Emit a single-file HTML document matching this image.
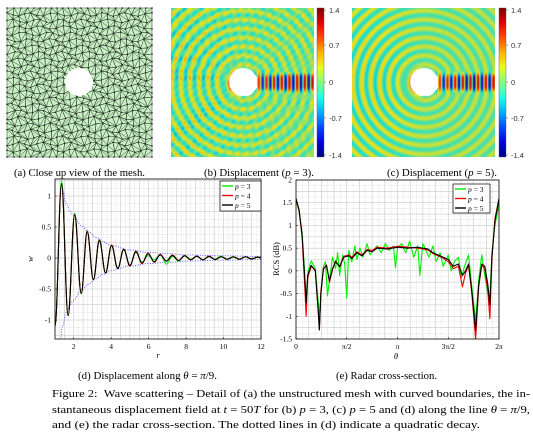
<!DOCTYPE html>
<html><head><meta charset="utf-8">
<style>
html,body{margin:0;padding:0;background:#fff;}
#root{position:relative;width:533px;height:445px;overflow:hidden;font-family:"Liberation Serif",serif;}
canvas{position:absolute;}
svg{position:absolute;left:0;top:0;}
</style></head><body>
<div id="root">
<canvas id="fieldB" width="143" height="149" style="left:171px;top:8px"></canvas>
<canvas id="fieldC" width="143" height="149" style="left:352px;top:8px"></canvas>
<svg id="svg" width="533" height="445" xmlns="http://www.w3.org/2000/svg"></svg>
</div>
<script>
// ---------- Chart (d) data ----------
const dispR = [1.0,1.35,1.7,2.05,2.4,2.72,3.05,3.37,3.7,4.02,4.35,4.67,5.0,5.32,5.65,5.97,6.3,6.62,6.95,7.27,7.6,7.92,8.25,8.57,8.9,9.22,9.55,9.87,10.2,10.52,10.85,11.17,11.5,11.82,12.0];
const dispP5 = [-1.1,1.2,-0.93,0.7,-0.57,0.42,-0.35,0.28,-0.24,0.2,-0.17,0.14,-0.12,0.1,-0.08,0.07,-0.06,0.05,-0.05,0.04,-0.04,0.035,-0.03,0.03,-0.03,0.025,-0.025,0.02,-0.02,0.02,-0.02,0.02,-0.015,0.015,0.0];
const dispP4 = [-1.1,1.2,-0.93,0.7,-0.57,0.43,-0.35,0.29,-0.24,0.21,-0.17,0.14,-0.13,0.11,-0.09,0.08,-0.07,0.06,-0.05,0.05,-0.04,0.04,-0.03,0.03,-0.03,0.03,-0.025,0.02,-0.02,0.02,-0.02,0.02,-0.015,0.015,0.0];
const dispP3 = [-1.1,1.25,-0.93,0.72,-0.58,0.44,-0.35,0.3,-0.24,0.2,-0.16,0.13,-0.12,0.09,-0.07,0.04,-0.03,0.06,-0.1,0.03,-0.05,0.04,-0.02,0.03,-0.03,0.02,-0.02,0.03,-0.02,0.01,-0.02,0.02,-0.02,0.01,0.0];
const envR = [1.25,1.4,1.6,1.8,2.0,2.4,2.8,3.2,3.6,4.0,5.0,6.0,7.0,8.0,10.0,12.0];
const envV = [1.4,1.1,0.88,0.75,0.68,0.52,0.42,0.33,0.26,0.2,0.13,0.09,0.07,0.05,0.035,0.025];
const dXTicks = [2,4,6,8,10,12];
const dYTicks = [1,0.5,0,-0.5,-1];
const dYLabels = ["1","0.5","0","-0.5","-1"];

// ---------- Chart (e) data (theta in units of pi) ----------
const rcsTheta = [0,0.03,0.06,0.09,0.1,0.115,0.15,0.19,0.22,0.23,0.245,0.27,0.3,0.33,0.36,0.39,0.43,0.47,0.52,0.55,0.6,0.65,0.7,0.75,0.8,0.9,1.0,1.1,1.2,1.3,1.35,1.4,1.45,1.5,1.55,1.6,1.64,1.67,1.7,1.73,1.77,1.8,1.83,1.86,1.89,1.91,1.93,1.96,2.0];
const rcsP5 = [1.58,1.35,0.8,-0.3,-0.7,-0.1,0.12,0.0,-0.9,-1.3,-0.5,0.05,0.12,-0.22,0.05,0.2,0.1,0.3,0.33,0.27,0.4,0.33,0.45,0.42,0.5,0.48,0.52,0.5,0.52,0.48,0.4,0.35,0.3,0.25,0.1,0.15,-0.1,0.0,0.15,-0.4,-1.3,-0.3,0.15,0.1,-0.3,-0.75,0.3,1.1,1.58];
const rcsP4 = [1.6,1.33,0.75,-0.5,-1.0,-0.15,0.1,0.02,-0.95,-1.3,-0.45,0.03,0.13,-0.25,0.03,0.22,0.08,0.32,0.35,0.3,0.42,0.35,0.47,0.45,0.52,0.5,0.54,0.52,0.5,0.46,0.38,0.33,0.28,0.2,0.05,0.1,-0.35,-0.05,0.12,-0.45,-1.5,-0.35,0.12,0.05,-0.45,-1.05,0.25,1.15,1.6];
const rcsTheta3 = [0,0.03,0.06,0.09,0.1,0.12,0.15,0.19,0.22,0.23,0.25,0.27,0.29,0.31,0.33,0.36,0.39,0.41,0.43,0.46,0.48,0.5,0.52,0.55,0.58,0.6,0.63,0.66,0.7,0.73,0.76,0.8,0.84,0.88,0.92,0.96,0.98,1.0,1.04,1.08,1.12,1.16,1.2,1.22,1.25,1.28,1.31,1.35,1.38,1.42,1.45,1.5,1.53,1.56,1.6,1.63,1.66,1.7,1.73,1.77,1.8,1.83,1.86,1.89,1.91,1.93,1.96,2.0];
const rcsP3 = [1.55,1.3,0.85,-0.2,-0.6,0.0,0.22,0.05,-0.7,-1.1,-0.4,0.1,0.2,-0.55,-0.2,0.3,0.05,0.4,-0.1,0.35,0.15,-0.6,0.45,0.2,0.55,0.25,0.5,0.3,0.6,0.35,0.45,0.55,0.4,0.6,0.45,0.55,0.07,0.5,0.6,0.4,0.65,0.3,0.55,-0.1,0.6,0.45,0.3,0.55,0.2,0.4,0.1,0.35,0.0,0.2,0.3,-0.15,0.1,0.35,-0.3,-1.1,-0.2,0.35,-0.1,-0.5,-0.6,0.4,1.0,1.45];
const eYTicks = [2,1.5,1,0.5,0,-0.5,-1,-1.5];
const eYLabels = ["2","1.5","1","0.5","0","-0.5","-1","-1.5"];
const eXTicks = [0,0.5,1,1.5,2];
const eXLabels = ["0","\u03c0/2","\u03c0","3\u03c0/2","2\u03c0"];

const NS="http://www.w3.org/2000/svg";
const svg=document.getElementById('svg');
function mk(tag,attrs,parent){const e=document.createElementNS(NS,tag);for(const k in attrs)e.setAttribute(k,attrs[k]);(parent||svg).appendChild(e);return e;}
function txt(s,x,y,size,anchor,parent,extra){const t=mk('text',Object.assign({x:x,y:y,'font-size':size,'text-anchor':anchor||'middle','font-family':'"Liberation Serif",serif',fill:'#000'},extra||{}),parent);t.textContent=s;return t;}

// ---------- Panel (a) mesh ----------
(function(){
  const g=mk('g',{});
  
  
  mk('rect',{x:7,y:8,width:145,height:149,fill:'#c9f0c4'},g);
  const nx=23, ny=23, pts=[];
  for(let i=0;i<=nx;i++){pts[i]=[];for(let j=0;j<=ny;j++){
    let jx=(i>0&&i<nx)?1.9*Math.sin(i*12.99+j*78.23):0, jy=(j>0&&j<ny)?1.9*Math.sin(i*39.35+j*11.13):0;
    pts[i][j]=[7+i*145/nx+jx,8+j*149/ny+jy];}}
  let d='';
  for(let i=0;i<nx;i++)for(let j=0;j<ny;j++){
    const a=pts[i][j],b=pts[i+1][j],c=pts[i+1][j+1],e=pts[i][j+1];
    d+=`M${a[0]},${a[1]}L${b[0]},${b[1]}L${c[0]},${c[1]}L${e[0]},${e[1]}Z`;
    if((i+j)%2)d+=`M${a[0]},${a[1]}L${c[0]},${c[1]}`;else d+=`M${b[0]},${b[1]}L${e[0]},${e[1]}`;
  }
  mk('path',{d:d,fill:'none',stroke:'#2a3a2a','stroke-width':0.5},g);
  for(let i=0;i<=nx;i++)for(let j=0;j<=ny;j++)mk('circle',{cx:pts[i][j][0],cy:pts[i][j][1],r:0.8,fill:'#222'},g);
  mk('circle',{cx:79,cy:82,r:14,fill:'#fff'},g);
})();

// ---------- Panels (b),(c) fields ----------
function jet(t){t=Math.max(0,Math.min(1,t));const c=v=>Math.max(0,Math.min(1,v));
  return [c(1.5-Math.abs(4*t-3))*255,c(1.5-Math.abs(4*t-2))*255,c(1.5-Math.abs(4*t-1))*255];}
function drawField(id,noisy){
  const cv=document.getElementById(id),ctx=cv.getContext('2d'),W=cv.width,H=cv.height;
  const im=ctx.createImageData(W,H),cx=72,cy=74,R=14;
  for(let y=0;y<H;y++)for(let x=0;x<W;x++){
    const dx=x-cx,dy=y-cy,r=Math.hypot(dx,dy),th=Math.atan2(dy,dx);
    let v=0,idx=(y*W+x)*4;
    if(r<R){im.data[idx]=255;im.data[idx+1]=255;im.data[idx+2]=255;im.data[idx+3]=255;continue;}
    const back=Math.max(0,-Math.cos(th));
    v=0.38*Math.cos(0.7*r)*(0.6+0.5*back);
    v+=1.3*Math.exp(-(r-R)/5)*back*Math.cos(0.7*r+2.6);
    if(noisy)v+=0.18*Math.cos(0.72*x+0.3*y)*Math.cos(0.5*y);
    if(dx>0){const sh=Math.exp(-Math.pow(dy/9,4));v=v*(1-sh)+sh*1.3*Math.cos(0.82*dx)*(0.7+0.3*Math.min(1,dx/40));}
    const c=jet((v+1.4)/2.8);
    im.data[idx]=c[0]*0.85+25;im.data[idx+1]=c[1]*0.8+20;im.data[idx+2]=c[2]*0.75+20;im.data[idx+3]=255;
  }
  ctx.putImageData(im,0,0);
  ctx.fillStyle='#fff';ctx.beginPath();ctx.arc(cx,cy,R,0,7);ctx.fill();
}
drawField('fieldB',true);drawField('fieldC',false);

// colorbars
(function(){
  const defs=mk('defs',{});
  const lg=mk('linearGradient',{id:'jetg',x1:0,y1:1,x2:0,y2:0},defs);
  for(let i=0;i<=10;i++){const c=jet(i/10);mk('stop',{offset:i/10,'stop-color':`rgb(${c[0]|0},${c[1]|0},${c[2]|0})`},lg);}
  [[317,'colorbar-p3'],[499,'colorbar-p5']].forEach(([x,name])=>{
    const g=mk('g',{});
    
    
    mk('rect',{x:x,y:8,width:7,height:149,fill:'url(#jetg)',stroke:'#555','stroke-width':0.4},g);
    const labs=['1.4','0.7','0','-0.7','-1.4'],ys=[10,45,82,118,155];
    labs.forEach((l,i)=>{mk('line',{x1:x+7,x2:x+9,y1:ys[i],y2:ys[i],stroke:'#555','stroke-width':0.5},g);
      txt(l,x+12,ys[i]+3,7.5,'start',g,{'font-family':'"Liberation Sans",sans-serif',fill:'#333'});});
  });
})();
// top captions
[['(a) Close up view of the mesh.',14,131,'caption-a'],['(b) Displacement (<tspan font-style="italic">p</tspan> = 3).',204,110,'caption-b'],['(c) Displacement (<tspan font-style="italic">p</tspan> = 5).',387,110,'caption-c']].forEach(([s,x,w,n])=>{
  const t=mk('text',{x:x,y:176,'font-size':10.5,'font-family':'"Liberation Serif",serif',textLength:w,lengthAdjust:'spacingAndGlyphs'});
  t.innerHTML=s;
  
  
});

// ---------- smoothing helpers ----------
function extremaPath(xs,ys,X,Y){
  let d=`M${X(xs[0])},${Y(ys[0])}`;
  for(let i=1;i<xs.length;i++){const x0=X(xs[i-1]),x1=X(xs[i]),y0=Y(ys[i-1]),y1=Y(ys[i]),h=(x1-x0)/2.6;
    d+=`C${x0+h},${y0} ${x1-h},${y1} ${x1},${y1}`;}
  return d;
}
function linePath(xs,ys,X,Y){return xs.map((x,i)=>(i?'L':'M')+X(x).toFixed(2)+','+Y(ys[i]).toFixed(2)).join('');}

function drawGrid(g,L,R,T,B,vx,vy,minorX,minorY){
  vx.forEach(x=>mk('line',{x1:x,x2:x,y1:T,y2:B,stroke:'#c8c8c8','stroke-width':0.6},g));
  vy.forEach(y=>mk('line',{x1:L,x2:R,y1:y,y2:y,stroke:'#c8c8c8','stroke-width':0.6},g));
  minorX.forEach(x=>mk('line',{x1:x,x2:x,y1:T,y2:B,stroke:'#cfcfcf','stroke-width':0.5,'stroke-dasharray':'1,1'},g));
  minorY.forEach(y=>mk('line',{x1:L,x2:R,y1:y,y2:y,stroke:'#cfcfcf','stroke-width':0.5,'stroke-dasharray':'1,1'},g));
}
function legend(g,x,y,w,h,names){
  const lg=mk('g',{},g);
  
  
  mk('rect',{x:x,y:y,width:w,height:h,fill:'#fff',stroke:'#000','stroke-width':0.7},lg);
  const cols=['#00ee00','#ee0000','#000'];
  names.forEach((n,i)=>{const yy=y+5+i*9.5;
    const e=mk('g',{},lg);
    
    
    mk('line',{x1:x+2,x2:x+13,y1:yy,y2:yy,stroke:cols[i],'stroke-width':1.4},e);
    const t=txt('',x+15,yy+3,7.5,'start',e);
    t.innerHTML='<tspan font-style="italic">p</tspan> = '+n;});
}

// ---------- Chart (d) ----------
(function(){
  const L=55,R=261,T=179,B=339;
  const X=v=>L+(v-1)/11*(R-L), Y=v=>258-62*v;
  const g=mk('g',{});
  
  
  const cp=mk('clipPath',{id:'clipd'},g);mk('rect',{x:L,y:T,width:R-L,height:B-T},cp);
  const vx=[],vy=[],mx=[],my=[];
  for(let v=1.5;v<12;v+=0.5)vx.push(X(v));
  for(let v=1.25;v<12;v+=0.5)mx.push(X(v));
  for(let v=-1.25;v<=1.25;v+=0.25)vy.push(Y(v));
  for(let v=-1.25;v<=1.25;v+=0.125)my.push(Y(v));
  drawGrid(g,L,R,T,B,vx,vy,mx,my);
  const pg=mk('g',{'clip-path':'url(#clipd)'},g);
  const e1=mk('path',{d:extremaPath(envR,envV,X,Y),fill:'none',stroke:'#4848ff','stroke-width':0.9,'stroke-dasharray':'1,1.5'},pg);
  
  const e2=mk('path',{d:extremaPath(envR,envV.map(v=>-v),X,Y),fill:'none',stroke:'#4848ff','stroke-width':0.9,'stroke-dasharray':'1,1.5'},pg);
  
  [[dispP3,'#00ee00','series-p3'],[dispP4,'#ee0000','series-p4'],[dispP5,'#000','series-p5']].forEach(([ys,c,n])=>{
    const p=mk('path',{d:extremaPath(dispR,ys,X,Y),fill:'none',stroke:c,'stroke-width':1.1},pg);
    
    
  });
  mk('rect',{x:L,y:T,width:R-L,height:B-T,fill:'none',stroke:'#000','stroke-width':0.8},g);
  dXTicks.forEach(v=>{mk('line',{x1:X(v),x2:X(v),y1:B,y2:B-2,stroke:'#000','stroke-width':0.5},g);txt(String(v),X(v),349,7.5,'middle',g);});
  dYTicks.forEach((v,i)=>{mk('line',{x1:L,x2:L+2,y1:Y(v),y2:Y(v),stroke:'#000','stroke-width':0.5},g);txt(dYLabels[i],L-4,Y(v)+2.5,7.5,'end',g);});
  const xl=txt('r',158,358,8.5,'middle',g,{'font-style':'italic'});
  const yl=txt('w',33,259,8.5,'middle',g,{'font-style':'italic',transform:'rotate(-90 33 259)'});
  legend(g,220,181,41,30,['3','4','5']);
  const c=mk('text',{x:78,y:379,'font-size':10.5,'font-family':'"Liberation Serif",serif',textLength:139,lengthAdjust:'spacingAndGlyphs'},g);
  c.innerHTML='(d) Displacement along <tspan font-style="italic">\u03b8</tspan> = <tspan font-style="italic">\u03c0</tspan>/9.';
  
})();

// ---------- Chart (e) ----------
(function(){
  const L=296,R=499,T=180,B=339;
  const X=v=>L+v/2*(R-L), Y=v=>T+(2-v)/3.5*(B-T);
  const g=mk('g',{});
  
  
  const vx=[],vy=[],mx=[],my=[];
  for(let v=0.125;v<2;v+=0.125)vx.push(X(v));
  for(let v=0.0625;v<2;v+=0.125)mx.push(X(v));
  for(let v=-1.25;v<2;v+=0.25)vy.push(Y(v));
  for(let v=-1.375;v<2;v+=0.25)my.push(Y(v));
  drawGrid(g,L,R,T,B,vx,vy,mx,my);
  const cp=mk('clipPath',{id:'clipe'},g);mk('rect',{x:L,y:T,width:R-L,height:B-T},cp);
  const pg=mk('g',{'clip-path':'url(#clipe)'},g);
  [[rcsTheta3,rcsP3,'#00ee00','series-p3'],[rcsTheta,rcsP4,'#ee0000','series-p4'],[rcsTheta,rcsP5,'#000','series-p5']].forEach(([xs,ys,c,n])=>{
    const p=mk('path',{d:linePath(xs,ys,X,Y),fill:'none',stroke:c,'stroke-width':1.1,'stroke-linejoin':'round'},pg);
    
    
  });
  mk('rect',{x:L,y:T,width:R-L,height:B-T,fill:'none',stroke:'#000','stroke-width':0.8},g);
  eXTicks.forEach((v,i)=>{mk('line',{x1:X(v),x2:X(v),y1:B,y2:B-2,stroke:'#000','stroke-width':0.5},g);txt(eXLabels[i],X(v),349,7.5,'middle',g);});
  eYTicks.forEach((v,i)=>{mk('line',{x1:L,x2:L+2,y1:Y(v),y2:Y(v),stroke:'#000','stroke-width':0.5},g);txt(eYLabels[i],L-4,Y(v)+2.5,7.5,'end',g);});
  const xl=txt('\u03b8',396,359,8.5,'middle',g,{'font-style':'italic'});
  const yl=txt('RCS (dB)',279,259,8.5,'middle',g,{transform:'rotate(-90 279 259)'});
  legend(g,453,184,37,29,['3','4','5']);
  const c=mk('text',{x:336,y:379,'font-size':10.5,'font-family':'"Liberation Serif",serif',textLength:101,lengthAdjust:'spacingAndGlyphs'},g);
  c.textContent='(e) Radar cross-section.';
  
})();

// ---------- figure caption ----------
(function(){
  const g=mk('g',{});
  
  
  const lines=[
    'Figure 2: &#160;Wave scattering \u2013 Detail of (a) the unstructured mesh with curved boundaries, the in-',
    'stantaneous displacement field at <tspan font-style="italic">t</tspan> = 50<tspan font-style="italic">T</tspan> for (b) <tspan font-style="italic">p</tspan> = 3, (c) <tspan font-style="italic">p</tspan> = 5 and (d) along the line <tspan font-style="italic">\u03b8</tspan> = <tspan font-style="italic">\u03c0</tspan>/9,',
    'and (e) the radar cross-section. The dotted lines in (d) indicate a quadratic decay.'];
  const ys=[397,413,428],lens=[478,478,428];
  lines.forEach((s,i)=>{const t=mk('text',{x:52,y:ys[i],'font-size':11,'font-family':'"Liberation Serif",serif',textLength:lens[i],lengthAdjust:'spacingAndGlyphs'},g);t.innerHTML=s;});
})();
</script>
</body></html>
